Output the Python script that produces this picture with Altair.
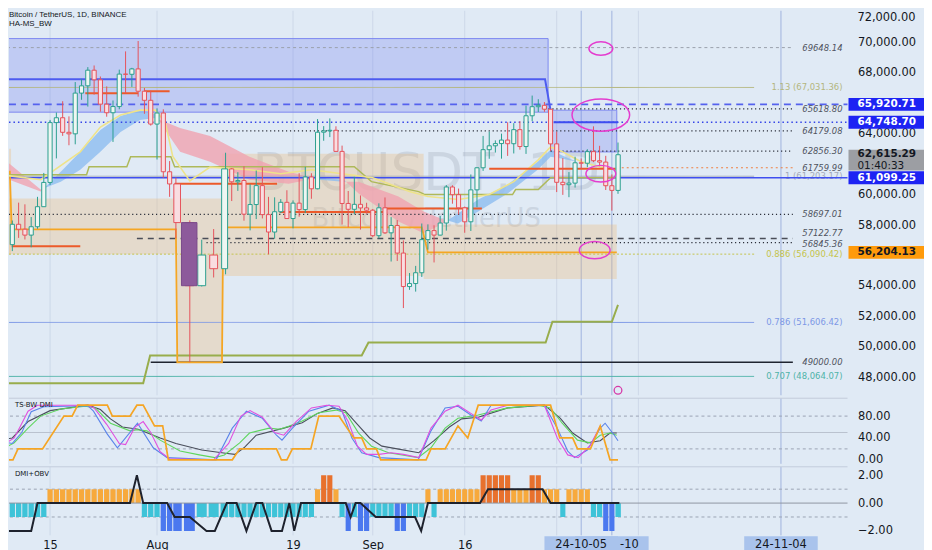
import altair as alt
import numpy as np
import pandas as pd

# ---------------- values ----------------
# x positions are day numbers counted from 2024-07-01 (= day 0)
DATES = pd.date_range("2024-07-08", "2024-10-11", freq="D")
OPEN = [55857, 56714, 58050, 57725, 57339, 57889, 59204, 60797, 64724, 65043,
        64087, 63987, 66660, 67139, 68165, 67532, 65936, 65372, 65777, 67907,
        67896, 68249, 66784, 66188,
        64628, 65354, 61498, 60697, 58161, 54018, 56030, 55134, 61685, 60837,
        60923, 58713, 59346, 60588, 58684, 57541, 58874, 59491, 58427, 59438,
        59013, 61157, 60381, 64094, 64178, 64220, 62834, 59415, 59034, 59359, 59123,
        58973, 57301, 59132, 57487, 57970, 56160, 53962, 54160, 54869, 57042,
        57635, 57339, 58132, 60498, 59993, 59132, 58213, 60309, 61759, 62947,
        63201, 63348, 63578, 63339, 64262, 63152, 65173, 65769, 65858, 65602,
        63327, 60805, 60649, 60752, 62086, 62058, 62819, 62224, 62131, 60582, 60274]
HIGH = [58236, 58296, 59470, 59359, 58526, 59850, 61420, 64900, 65388, 66128,
        65133, 67386, 67598, 68366, 68474, 67750, 67102, 66175, 68200, 69399,
        68318, 70079, 66998, 66810,
        65659, 65596, 62198, 61117, 58305, 57040, 57737, 62746, 61744, 61470,
        61858, 60680, 61578, 61800, 59850, 59817, 59700, 60284, 59617, 61400,
        61820, 61400, 64955, 64494, 65000, 64481, 63212, 60234, 61166, 59944, 59462,
        59054, 59425, 59809, 58519, 58327, 56995, 54850, 55318, 58100, 58044,
        57981, 58588, 60625, 60610, 60395, 59210, 61320, 61786, 63850, 64133,
        63559, 64000, 64745, 64688, 64817, 65839, 66498, 66260, 66076, 65618,
        64130, 62391, 61477, 62484, 62370, 62975, 64478, 63200, 62543, 61321, 63417]
LOW = [54260, 56289, 57157, 57052, 56542, 57756, 59204, 60632, 62373, 63854,
       63238, 63300, 66222, 65777, 66559, 65441, 65111, 63456, 65600, 66650,
       67066, 66428, 65302, 64526,
       62302, 61100, 59850, 57122, 49000, 53966, 54558, 54766, 59575, 60243,
       58286, 57650, 58392, 58433, 56078, 57098, 58785, 58408, 57787, 58548,
       58783, 59724, 60345, 63532, 63773, 62800, 58034, 57860, 58716, 57700, 58744,
       57201, 57128, 57415, 55606, 55643, 52550, 53745, 53629, 54591, 56386,
       55545, 57322, 57632, 59400, 58692, 57493, 57610, 59174, 61555, 62350,
       62758, 62357, 62538, 62700, 62947, 62670, 64819, 65422, 65432, 62856,
       60164, 59981, 59828, 60459, 61689, 61798, 62128, 61860, 60300, 58946, 60050]
CLOSE = [56714, 58050, 57725, 57339, 57889, 59204, 60797, 64724, 65043, 64087,
         63987, 66660, 67139, 68165, 67532, 65936, 65372, 65777, 67907, 67896,
         68249, 66784, 66188, 64628,
         65354, 61498, 60697, 58161, 54018, 56030, 55134, 61685, 60837, 60923,
         58713, 59346, 60588, 58684, 57541, 58874, 59491, 58427, 59438, 59013,
         61157, 60381, 64094, 64178, 64220, 62834, 59415, 59034, 59359, 59123, 58973,
         57301, 59132, 57487, 57970, 56160, 53962, 54160, 54869, 57042, 57635,
         57339, 58132, 60498, 59993, 59132, 58213, 60309, 61759, 62947, 63201,
         63348, 63578, 63339, 64262, 63152, 65173, 65769, 65858, 65602, 63327,
         60805, 60649, 60752, 62086, 62058, 62819, 62224, 62131, 60582, 60274, 62615.29]
HIGHLIGHT_DATES = ["2024-08-05"]

# indicator ribbon (two averages) and lines of the price pane
RIB_DAY = [6.2, 12.5, 15.7, 18.8, 22.0, 25.2, 28.3, 30.7, 32.3, 34.3, 36.7, 41.9, 48.3,
           53.2, 57.3, 59.7, 66.2, 70.3, 73.5, 75.9, 79.2, 84.0, 88.9, 91.0, 93.0, 95.3]
RIB_FAST = [61174, 60195, 61500, 62804, 64239, 65152, 65543, 65282, 64239, 62804, 62152,
            60978, 60717, 61109, 60978, 60065, 58238, 57456, 58108, 58760, 59673, 60652,
            62152, 62934, 62543, 62152]
RIB_SLOW = [62478, 60326, 60847, 61630, 62804, 64108, 64891, 65021, 64760, 64369, 63847,
            62478, 61500, 60978, 60847, 60847, 59869, 58891, 58369, 58108, 58891, 60065,
            61630, 62478, 62347, 62152]
YELLOW_DAY = [6.2, 12.5, 18.8, 22.0, 25.2, 28.3, 30.7, 32.3, 33.5, 35.0, 36.7, 41.9, 47.0,
              52.0, 57.0, 62.0, 68.0, 71.0, 76.0, 81.0, 85.0, 89.0, 91.0, 93.0, 96.0, 99.0, 102.0]
YELLOW_PRICE = [61304, 60978, 62804, 64434, 65217, 65543, 65543, 64760, 62500, 60900,
                61800, 61630, 61369, 61630, 61369, 61109, 60195, 59869, 59673, 60000,
                60847, 62282, 63130, 62804, 62152, 61826, 61630]
OLIVE_DAY = [6.2, 19.8, 20.2, 26.2, 26.8, 33.2, 33.8, 59.0, 61.8, 69.5, 70.5, 84.8, 85.3,
             89.0, 91.0, 102.0]
OLIVE_PRICE = [61304, 61304, 61826, 61826, 62478, 62478, 61826, 61826, 60847, 60195,
               60000, 60000, 60326, 60326, 61109, 61109]
LOWER_DAY = [6.2, 28.8, 29.9, 60.2, 61.3, 90.2, 91.3, 101.0, 102.0]
LOWER_PRICE = [47609, 47609, 49435, 49435, 50282, 50282, 51652, 51652, 52761]
ORANGE_DAY = [6.2, 7.6, 7.9, 34.0, 34.1, 37.7, 37.8, 70.0, 71.0, 101.8]
ORANGE_PRICE = [61500, 61500, 57717, 57717, 48980, 48980, 57847, 57847, 56204.13, 56204.13]
TREND_DAY = [6.2, 90.1, 91.0]
TREND_PRICE = [67565, 67565, 65543]
SEG_START = [7.9, 19.6, 29.0, 33.8, 46.8, 64.0, 81.0]
SEG_END = [18.8, 28.0, 33.0, 46.4, 64.0, 79.8, 101.6]
SEG_PRICE = [56608, 66652, 66782, 60717, 58850, 59087, 61695]

# zones
BLUE_ZONE_START = [6.2, 91.0]
BLUE_ZONE_END = [90.6, 101.8]
BLUE_ZONE_TOP = [70240, 65540]
BLUE_ZONE_BOTTOM = [65410, 62800]
TAN_ZONE_START = [6.2, 6.2, 34.1, 37.7, 70.3]
TAN_ZONE_END = [7.8, 34.1, 37.7, 70.3, 101.8]
TAN_ZONE_TOP = [63000, 59740, 59740, 62680, 58040]
TAN_ZONE_BOTTOM = [56090, 56090, 48980, 54650, 54460]

# horizontal levels
DOTTED_LEVELS = [65618.80, 64179.08, 62856.30, 58697.01, 56845.36]
DOTTED_FROM = [90.0, 36.4, 91.0, 6.2, 36.4]
DASHED_LEVELS = [57122.77]
DASHED_FROM = [27.8]
GREY_LEVELS = [69648.14]
GREY_FROM = [6.2]
ORANGE_LEVELS = [61759.99]
ORANGE_FROM = [101.8]
BLACK_LEVELS = [49000.00]
BLACK_FROM = [30.0]
BLUE_SOLID = [61099.25]
BLUE_DASHED = [65920.71]
BLUE_DOTTED = [64748.70]
BLUE_SEG_FROM, BLUE_SEG_TO = [91.5], [102.0]
FIB_RATIO = [1.13, 1.0, 0.886, 0.786, 0.707]
FIB_PRICE = [67031.36, 61203.17, 56090.42, 51606.42, 48064.07]

ELLIPSE_DAY = [99.2, 99.2, 99.2, 98.2]
ELLIPSE_PRICE = [69587, 65217, 61369, 56347]
LAST_PRICE = 62615.29
COUNTDOWN = "01:40:33"
TAG_PRICE = [65920.71, 64748.70, 61099.25]
ORANGE_TAG_PRICE = [56204.13]
PRICE_TICKS = [48000, 50000, 52000, 54000, 58000, 60000, 64000, 68000, 70000]

# TS-BW DMI pane
DMI_BLUE_DAY = [6.2, 8.0, 9.5, 11.0, 13.0, 20.0, 20.9, 23.1, 24.7, 27.9, 30.4, 32.6, 37.2, 39.1,
                41.4, 44.0, 46.3, 47.2, 48.9, 51.6, 54.9, 57.0, 58.6, 60.2, 63.0, 69.4, 71.5,
                73.8, 75.9, 78.0, 79.7, 81.3, 90.0, 92.1, 93.8, 94.9, 97.0, 99.1, 99.9, 101.4, 102.0]
DMI_BLUE = [33, 30, 50, 88, 97, 99, 89, 47, 22, 67, 22, 4, 0, 58, 89, 76, 45, 36, 58, 89, 100,
            89, 40, 13, 4, 0, 53, 95, 98, 82, 71, 100, 100, 58, 16, 4, 18, 58, 67, 45, 35]
DMI_PINK_DAY = [6.2, 8.3, 9.4, 10.5, 12.0, 20.0, 21.0, 23.0, 25.0, 26.0, 27.5, 28.8, 30.0, 31.5,
                33.0, 37.0, 38.5, 40.5, 42.0, 44.0, 46.0, 47.5, 49.5, 52.0, 54.5, 56.5, 58.0,
                59.5, 61.0, 63.0, 65.0, 67.0, 69.5, 71.5, 73.8, 75.9, 78.0, 79.7, 81.3, 84.0,
                90.0, 92.1, 93.8, 95.5, 97.5, 99.1]
DMI_PINK = [25, 40, 64, 89, 100, 100, 95, 65, 30, 28, 60, 70, 50, 15, 2, 0, 30, 80, 90, 78,
            50, 45, 70, 95, 100, 98, 70, 25, 10, 10, 13, 10, 4, 58, 89, 100, 85, 73, 91, 100,
            100, 40, 9, 4, 27, 62]
DMI_GREEN_DAY = [6.2, 8.3, 10.5, 12.5, 15.7, 19.6, 21.2, 23.6, 26.7, 27.9, 29.4, 31.5, 34.3,
                 35.8, 37.1, 37.9, 40.3, 41.9, 45.1, 46.8, 48.4, 50.5, 53.2, 56.0, 57.6, 59.7,
                 61.8, 64.6, 69.4, 71.5, 73.8, 75.9, 79.2, 84.0, 88.9, 91.0, 92.9, 95.4, 97.5,
                 99.1, 100.7, 101.8]
DMI_GREEN = [18, 31, 58, 80, 93, 98, 95, 67, 53, 55, 53, 36, 16, 9, 4, 9, 31, 49, 58, 56, 62,
             71, 86, 91, 86, 49, 25, 13, 4, 22, 58, 76, 82, 95, 100, 95, 67, 36, 31, 45, 49, 45]
DMI_DARK_DAY = [6.2, 8.0, 10.5, 14.0, 20.0, 22.0, 23.6, 25.5, 28.0, 31.5, 34.0, 36.0, 38.0,
                39.5, 41.0, 43.0, 47.5, 50.5, 53.0, 55.5, 57.5, 59.5, 61.5, 63.5, 66.0, 69.5,
                72.0, 74.5, 76.5, 79.2, 84.0, 90.0, 92.6, 94.6, 97.0, 99.1, 100.7, 101.8]
DMI_DARK = [36, 40, 70, 90, 100, 92, 75, 60, 56, 40, 30, 18, 12, 10, 22, 45, 58, 68, 85, 95,
            90, 65, 40, 25, 20, 13, 35, 60, 75, 78, 95, 100, 76, 49, 31, 35, 49, 49]
DMI_ORANGE_DAY = [6.2, 8.1, 8.9, 12.8, 16.2, 17.5, 18.4, 23.1, 23.9, 26.7, 27.8, 28.8, 30.6,
                  31.9, 32.8, 39.1, 40.3, 46.3, 47.1, 48.0, 48.9, 51.9, 53.2, 56.5, 58.9, 60.2,
                  61.0, 62.6, 63.3, 70.7, 71.5, 73.8, 75.9, 77.5, 79.2, 91.0, 92.5, 94.6, 95.4,
                  97.5, 99.1, 100.7, 102.0]
DMI_ORANGE = [0, 0, 20, 20, 80, 80, 100, 100, 80, 80, 100, 100, 62, 62, 0, 0, 20, 20, 0, 0,
              20, 20, 80, 80, 40, 40, 20, 20, 0, 0, 20, 20, 62, 40, 100, 100, 40, 40, 20, 20,
              62, 0, 0]

# DMI+OBV pane (one bar per candle, day 7 .. 102)
OBV_BARS = ([-1] * 7 + [1] * 15 + [-1] * 3 + [-2] * 4 + [-1] * 17 + [1, 2, 2, 1, -1, -2, -1, -2, -2]
            + [-1] * 4 + [-2, -2] + [-1] * 3 + [1, -1] + [1] * 7 + [2] * 5 + [1] * 3 + [2, 2]
            + [1] * 3 + [-1] + [1] * 4 + [-1, -1, -2, -2, -1])
OBV_LINE_DAY = [6.2, 11.0, 12.0, 26.7, 27.8, 28.8, 32.6, 33.8, 35.0, 36.4, 37.1, 38.2, 39.8,
                41.4, 43.0, 44.0, 45.5, 47.2, 48.4, 49.2, 50.3, 57.6, 58.4, 59.2, 60.0, 62.5,
                68.9, 69.9, 71.0, 79.5, 80.8, 89.7, 91.0, 102.2]
OBV_LINE = [-2, -2, 0, 0, 2, 0, 0, -1, -1, -2, -2, 0, 0, -2, 0, 0, -2, -2, 0, -2, 0, 0, -1, 0,
            0, -1, -1, -2, 0, 0, 1, 1, 0, 0]

# time axis
TICK_DAYS = [14, 31, 49, 62, 77]
TICK_LABELS = ["15", "Aug", "19", "Sep", "16"]
GRID_DAYS = [14, 31, 49, 62, 77, 92, 105]
RANGE_DAYS = [96, 101, 126]
SECOND_TAG_DAY, SECOND_TAG_TEXT = 101, "-10"
DATE_TAG_DAYS = [96, 126]
DATE_TAG_TEXT = ["24-10-05", "24-11-04"]

# ---------------- layout / style ----------------
BG = "#e0eaf5"
W = 844
H_PRICE, H_DMI, H_OBV = 387, 66, 69
X_DOMAIN = [7.47, 34, 35, 38, 102, 135.8]
X_RANGE = [0, 168, 182, 218, 613, 844]
XS = alt.Scale(domain=X_DOMAIN, range=X_RANGE, nice=False, zero=False, padding=0)
YS = alt.Scale(domain=[46826, 72065], zero=False, nice=False, padding=0)
YD = alt.Scale(domain=[-7.3, 112.7], zero=False, nice=False, padding=0)
YO = alt.Scale(domain=[-2.32, 2.61], zero=False, nice=False, padding=0)
TXT = "#131722"
FONT = "DejaVu Sans"
AX = dict(grid=False, ticks=False, tickSize=0, domain=False, labelPadding=10, labelFont=FONT,
          labelFontSize=11.5, labelColor=TXT, title=None, labelOverlap=False)
PRICE_AXIS = alt.Axis(orient="right", values=PRICE_TICKS, format=",.2f", **AX)
DMI_AXIS = alt.Axis(orient="right", values=[0, 40, 80], format=".2f", **AX)
OBV_AXIS = alt.Axis(orient="right", values=[-2, 0, 2], format=".2f", **AX)
label_expr = " : ".join(f"datum.value == {d} ? '{l}'" for d, l in zip(TICK_DAYS, TICK_LABELS)) + " : ''"
TIME_AXIS = alt.Axis(values=TICK_DAYS, labelExpr=label_expr, grid=False, ticks=False, tickSize=0,
                     domain=False, labelPadding=4, labelFont=FONT, labelFontSize=11.5,
                     labelColor=TXT, title=None, labelOverlap=False)
GREEN, RED = "#2b9f8f", "#e5535c"
INDEP = dict(color="independent", fill="independent", stroke="independent",
             strokeDash="independent", size="independent")


def px(field="t", axis=None):
    return alt.X(f"{field}:Q", scale=XS, axis=axis)


def py(field):
    return alt.Y(f"{field}:Q", scale=YS, axis=PRICE_AXIS)


def one(**kw):
    return alt.Chart(pd.DataFrame({k: [v] for k, v in kw.items()} if kw else {"a": [0]}))


grid_df = pd.DataFrame({"t": GRID_DAYS})
range_df = pd.DataFrame({"t": RANGE_DAYS})


def vlines(axis=None):
    return [alt.Chart(grid_df).mark_rule(color="#cdd8e8", strokeWidth=1).encode(x=px("t", axis)),
            alt.Chart(range_df).mark_rule(color="#9fb3df", strokeWidth=1).encode(x=px("t", axis))]


# ---------------- price pane ----------------
days = (DATES - pd.Timestamp("2024-07-01")).days
candles = pd.DataFrame({"t": days.astype(float), "o": OPEN, "h": HIGH, "l": LOW, "c": CLOSE,
                        "date": DATES.strftime("%Y-%m-%d")})
candles["t1"] = candles.t - 0.33
candles["t2"] = candles.t + 0.33
up = candles[candles.c >= candles.o]
down = candles[candles.c < candles.o]
hl = candles[candles.date.isin(HIGHLIGHT_DATES)]

rib_rows, seg = [], 0
for i, (t, f, s) in enumerate(zip(RIB_DAY, RIB_FAST, RIB_SLOW)):
    kind = "bull" if f >= s else "bear"
    if i > 0:
        t0, f0, s0 = RIB_DAY[i - 1], RIB_FAST[i - 1], RIB_SLOW[i - 1]
        k0 = "bull" if f0 >= s0 else "bear"
        if k0 != kind:
            d0, d1 = f0 - s0, f - s
            w = d0 / (d0 - d1)
            tc, pc = t0 + w * (t - t0), f0 + w * (f - f0)
            rib_rows.append({"t": tc, "a": pc, "b": pc, "seg": seg, "kind": k0})
            seg += 1
            rib_rows.append({"t": tc, "a": pc, "b": pc, "seg": seg, "kind": kind})
    rib_rows.append({"t": t, "a": f, "b": s, "seg": seg, "kind": kind})
rib = pd.DataFrame(rib_rows)

FIB_STYLE = [("#b4b67e", [1, 0]), ("#a3aabb", [1, 0]), ("#c5c44c", [2, 2]),
             ("#7d98e6", [1, 0]), ("#4fb3a8", [1, 0])]


def fib_layers():
    out = []
    for r, p, (col, dash) in zip(FIB_RATIO, FIB_PRICE, FIB_STYLE):
        d = pd.DataFrame({"p": [p], "label": [f"{r:g} ({p:,.2f})"]})
        out.append(alt.Chart(d).mark_rule(strokeWidth=1, color=col, strokeDash=dash).encode(
            x=alt.value(0), x2=alt.value(750), y=py("p")))
        out.append(alt.Chart(d).mark_text(align="right", font=FONT, fontSize=8.5, color=col).encode(
            x=alt.value(839), y=py("p"), text="label:N"))
    return out


label_prices = DOTTED_LEVELS + DASHED_LEVELS + GREY_LEVELS + ORANGE_LEVELS + BLACK_LEVELS
label_df = pd.DataFrame({"p": label_prices, "s": [f"{p:.2f}" for p in label_prices]})
# the two close labels (57122.77 / 56845.36) are pulled apart a little so they stay readable
label_shift = {57122.77: -5.5, 56845.36: 1.0}


def level_labels():
    out = []
    plain = label_df[~label_df.p.isin(list(label_shift))]
    out.append(alt.Chart(plain).mark_text(align="right", font=FONT, fontSize=8.5, fontStyle="italic",
                                          color="#4f535e").encode(x=alt.value(839), y=py("p"), text="s:N"))
    for p, dy in label_shift.items():
        out.append(alt.Chart(label_df[label_df.p == p]).mark_text(
            align="right", font=FONT, fontSize=8.5, fontStyle="italic", color="#4f535e", dy=dy).encode(
            x=alt.value(839), y=py("p"), text="s:N"))
    return out


def level_rule(prices, starts, color, dash, width, to=789):
    df = pd.DataFrame({"p": prices, "t": starts})
    return alt.Chart(df).mark_rule(color=color, strokeDash=dash, strokeWidth=width, clip=True).encode(
        x=px("t"), x2=alt.value(to), y=py("p"))


def full_rule(prices, color, dash, width):
    df = pd.DataFrame({"p": prices})
    return alt.Chart(df).mark_rule(color=color, strokeDash=dash, strokeWidth=width).encode(
        x=alt.value(0), x2=alt.value(W), y=py("p"))


def path_line(dx, dy, color, width):
    df = pd.DataFrame({"t": dx, "p": dy})
    return alt.Chart(df).mark_line(color=color, strokeWidth=width, clip=True).encode(x=px("t"), y=py("p"))


def tag(prices, box_color, text_color, bold=True):
    d = pd.DataFrame({"p": prices, "s": [f"{p:,.2f}" for p in prices]})
    return [alt.Chart(d).mark_point(shape=TAG_BOX, filled=True, size=76 * 76, opacity=1, strokeWidth=0,
                                    color=box_color).encode(x=alt.value(883), y=py("p")),
            alt.Chart(d).mark_text(align="left", font=FONT, fontSize=10.5, color=text_color,
                                   fontWeight="bold" if bold else "normal").encode(
                x=alt.value(854), y=py("p"), text="s:N")]


ELLIPSE = "M-1,0 A1,0.56 0 1,1 1,0 A1,0.56 0 1,1 -1,0 Z"
ell = pd.DataFrame({"t": ELLIPSE_DAY, "p": ELLIPSE_PRICE})
ell["sz"] = [w * w for w in [24, 58, 30, 31]]
TAG_BOX = "M-1,-0.171 L1,-0.171 L1,0.171 L-1,0.171 Z"
LAST_BOX = "M-1,-0.276 L1,-0.276 L1,0.276 L-1,0.276 Z"

price_layers = vlines() + [
    one(s="BTCUSDT, 1D").mark_text(font=FONT, fontSize=52, color="#7c8696", opacity=0.2).encode(
        x=alt.value(420), y=alt.value(164), text="s:N"),
    one(s="Bitcoin / TetherUS").mark_text(font=FONT, fontSize=26, color="#7c8696", opacity=0.2).encode(
        x=alt.value(420), y=alt.value(210), text="s:N"),
    alt.Chart(pd.DataFrame({"t1": BLUE_ZONE_START, "t2": BLUE_ZONE_END, "p1": BLUE_ZONE_TOP,
                            "p2": BLUE_ZONE_BOTTOM})).mark_rect(
        fill="#6070f0", fillOpacity=0.25, stroke="#7e89f0", strokeWidth=1, clip=True).encode(
        x=px("t1"), x2="t2", y=py("p1"), y2="p2"),
    alt.Chart(pd.DataFrame({"t1": TAN_ZONE_START, "t2": TAN_ZONE_END, "p1": TAN_ZONE_TOP,
                            "p2": TAN_ZONE_BOTTOM})).mark_rect(
        fill="#f0b060", fillOpacity=0.27, clip=True).encode(x=px("t1"), x2="t2", y=py("p1"), y2="p2"),
    alt.Chart(rib[rib.kind == "bull"]).mark_area(opacity=0.8, color="#8dbdf0", clip=True).encode(
        x=px("t"), y=py("a"), y2="b", detail="seg:N"),
    alt.Chart(rib[rib.kind == "bear"]).mark_area(opacity=0.8, color="#f0a3b0", clip=True).encode(
        x=px("t"), y=py("a"), y2="b", detail="seg:N"),
] + fib_layers() + [
    level_rule(GREY_LEVELS, GREY_FROM, "#9aa0ab", [3, 3], 1),
    level_rule(DOTTED_LEVELS, DOTTED_FROM, "#2a2e39", [1.2, 2.8], 1.3),
    level_rule(DASHED_LEVELS, DASHED_FROM, "#4a4e58", [6, 5], 1.5),
    level_rule(ORANGE_LEVELS, ORANGE_FROM, "#f08040", [2, 3], 1.2),
    level_rule(BLACK_LEVELS, BLACK_FROM, "#1f2430", [1, 0], 1.5),
    full_rule(BLUE_SOLID, "#3f4ff0", [1, 0], 1.5),
    full_rule(BLUE_DASHED, "#5562ee", [7, 5], 2),
    full_rule(BLUE_DOTTED, "#3444e8", [1.5, 3], 1.5),
    path_line(LOWER_DAY, LOWER_PRICE, "#98ad4c", 2),
    path_line(ORANGE_DAY, ORANGE_PRICE, "#f5a623", 1.8),
    path_line(OLIVE_DAY, OLIVE_PRICE, "#aeb95a", 1.5),
    path_line(YELLOW_DAY, YELLOW_PRICE, "#eee38a", 1.6),
    path_line(TREND_DAY, TREND_PRICE, "#4d5cf0", 2),
    alt.Chart(pd.DataFrame({"t": BLUE_SEG_FROM, "t2": BLUE_SEG_TO, "p": BLUE_DOTTED})).mark_rule(
        color="#3d4cf0", strokeWidth=2).encode(x=px("t"), x2="t2", y=py("p")),
    alt.Chart(pd.DataFrame({"t": SEG_START, "t2": SEG_END, "p": SEG_PRICE})).mark_rule(
        color="#ec5a2a", strokeWidth=2, clip=True).encode(x=px("t"), x2="t2", y=py("p")),
    alt.Chart(up).mark_rule(strokeWidth=1, color=GREEN, clip=True).encode(x=px("t"), y=py("l"), y2="h"),
    alt.Chart(down).mark_rule(strokeWidth=1, color=RED, clip=True).encode(x=px("t"), y=py("l"), y2="h"),
    alt.Chart(up).mark_rect(strokeWidth=1, fill="#eef6f2", stroke=GREEN, clip=True).encode(
        x=px("t1"), x2="t2", y=py("o"), y2="c"),
    alt.Chart(down).mark_rect(strokeWidth=1, fill="#f9dde1", stroke=RED, clip=True).encode(
        x=px("t1"), x2="t2", y=py("o"), y2="c"),
    alt.Chart(hl).transform_calculate(a="datum.t - 0.6", b="datum.t + 0.6").mark_rect(
        fill="#8d5a9b", stroke="#7a4a8a", strokeWidth=1).encode(x=px("a"), x2="b", y=py("o"), y2="c"),
    alt.Chart(ell).mark_point(shape=ELLIPSE, filled=False, color="#e43ccf", strokeWidth=1.5,
                              opacity=1).encode(
        x=px("t"), y=py("p"), size=alt.Size("sz:Q", scale=None, legend=None)),
    one(t=102.0, p=47150).mark_point(shape="circle", filled=False, color="#d63aa8", size=60,
                                     strokeWidth=1.3, opacity=1).encode(x=px("t"), y=py("p")),
] + level_labels() + [
    one(p=72000.0, s="72,000.00").mark_text(align="left", baseline="top", font=FONT, fontSize=11.5,
                                            color=TXT).encode(x=alt.value(854), y=py("p"), text="s:N"),
] + tag(TAG_PRICE, "#1d23f3", "#ffffff") + tag(ORANGE_TAG_PRICE, "#ff9a0a", TXT) + [
    one(p=LAST_PRICE).mark_point(shape=LAST_BOX, filled=True, size=76 * 76, opacity=1, strokeWidth=0,
                                 color="#9c9ea3", yOffset=5.5).encode(x=alt.value(883), y=py("p")),
    one(p=LAST_PRICE, s=f"{LAST_PRICE:,.2f}").mark_text(align="left", font=FONT, fontSize=10.5,
                                                        fontWeight="bold", color=TXT, dy=-0.5).encode(
        x=alt.value(854), y=py("p"), text="s:N"),
    one(p=LAST_PRICE, s=COUNTDOWN).mark_text(align="left", font=FONT, fontSize=10.5, color=TXT,
                                             dy=11).encode(x=alt.value(854), y=py("p"), text="s:N"),
    one(s="Bitcoin / TetherUS, 1D, BINANCE").mark_text(align="left", baseline="top", font="Liberation Sans",
                                                      fontSize=8, color=TXT).encode(
        x=alt.value(0), y=alt.value(0), text="s:N"),
    one(s="HA-MS_BW").mark_text(align="left", baseline="top", font="Liberation Sans", fontSize=8,
                                color=TXT).encode(x=alt.value(0), y=alt.value(9), text="s:N"),
]
price = alt.layer(*price_layers).properties(width=W, height=H_PRICE).resolve_scale(**INDEP)


# ---------------- DMI pane ----------------
def yd(f):
    return alt.Y(f"{f}:Q", scale=YD, axis=DMI_AXIS)


def dmi_line(dx, dv, color, width):
    return alt.Chart(pd.DataFrame({"t": dx, "v": dv})).mark_line(
        color=color, strokeWidth=width, clip=True).encode(x=px("t"), y=yd("v"))


dmi_layers = vlines() + [
    one().mark_rule(color="#c3cddc", strokeWidth=1).encode(x=alt.value(0), x2=alt.value(W), y=alt.value(0)),
    alt.Chart(pd.DataFrame({"v": [20, 80]})).mark_rule(color="#9aa3b3", strokeDash=[3, 3],
                                                        strokeWidth=1).encode(y=yd("v")),
    alt.Chart(pd.DataFrame({"v": [50]})).mark_rule(color="#b9c2cf", strokeWidth=1).encode(y=yd("v")),
    dmi_line(DMI_DARK_DAY, DMI_DARK, "#4a4f5c", 1.1),
    dmi_line(DMI_GREEN_DAY, DMI_GREEN, "#5fd65f", 1.1),
    dmi_line(DMI_BLUE_DAY, DMI_BLUE, "#5b84ea", 1.1),
    dmi_line(DMI_PINK_DAY, DMI_PINK, "#e04fe0", 1.1),
    dmi_line(DMI_ORANGE_DAY, DMI_ORANGE, "#f5a524", 1.7),
    one(s="TS-BW DMI").mark_text(align="left", font=FONT, fontSize=7, color=TXT).encode(
        x=alt.value(6), y=alt.value(6.5), text="s:N"),
]
dmi = alt.layer(*dmi_layers).properties(width=W, height=H_DMI)

# ---------------- DMI+OBV pane ----------------
obv = pd.DataFrame({"t": days.astype(float), "v": OBV_BARS})
OBV_COLORS = {1: "#f7a93c", 2: "#e8712d", -1: "#3ec3d8", -2: "#4b78ef"}


def yo(f):
    return alt.Y(f"{f}:Q", scale=YO, axis=OBV_AXIS)


obv_layers = vlines(TIME_AXIS) + [
    one().mark_rule(color="#c3cddc", strokeWidth=1).encode(x=alt.value(0), x2=alt.value(W), y=alt.value(0)),
    alt.Chart(pd.DataFrame({"v": [1, -1]})).mark_rule(color="#9aa3b3", strokeDash=[3, 3],
                                                       strokeWidth=1).encode(y=yo("v")),
]
for val, col in OBV_COLORS.items():
    obv_layers.append(
        alt.Chart(obv[obv.v == val]).transform_calculate(t1="datum.t - 0.42", t2="datum.t + 0.42")
        .mark_rect(color=col, clip=True).encode(x=px("t1", TIME_AXIS), x2="t2", y=yo("v"), y2=alt.datum(0)))
obv_layers += [
    alt.Chart(pd.DataFrame({"v": [0]})).mark_rule(color="#8e95a2", strokeWidth=1).encode(y=yo("v")),
    alt.Chart(pd.DataFrame({"t": OBV_LINE_DAY, "v": OBV_LINE})).mark_line(
        color="#1e222d", strokeWidth=2, clip=True).encode(x=px("t", TIME_AXIS), y=yo("v")),
    one(s="DMI+OBV").mark_text(align="left", font=FONT, fontSize=7, color=TXT).encode(
        x=alt.value(6), y=alt.value(7), text="s:N"),
]
TAG_DATE_BOX = "M-1,-0.23 L1,-0.23 L1,0.23 L-1,0.23 Z"
obv_layers.append(one(t=float(SECOND_TAG_DAY)).mark_point(
    shape=TAG_DATE_BOX, filled=True, size=74 * 74, opacity=1, strokeWidth=0, color="#a9c3ec").encode(
    x=px("t", TIME_AXIS), y=alt.value(H_OBV + 9.5)))
obv_layers.append(one(t=float(SECOND_TAG_DAY), s=SECOND_TAG_TEXT).mark_text(
    font=FONT, fontSize=11.5, color=TXT, align="right", dx=27).encode(
    x=px("t", TIME_AXIS), y=alt.value(H_OBV + 9.5), text="s:N"))
for d, s in zip(DATE_TAG_DAYS, DATE_TAG_TEXT):
    obv_layers.append(one(t=float(d)).mark_point(shape=TAG_DATE_BOX, filled=True, size=74 * 74, opacity=1,
                                                 strokeWidth=0, color="#a9c3ec").encode(
        x=px("t", TIME_AXIS), y=alt.value(H_OBV + 9.5)))
    obv_layers.append(one(t=float(d), s=s).mark_text(font=FONT, fontSize=11.5, color=TXT).encode(
        x=px("t", TIME_AXIS), y=alt.value(H_OBV + 9.5), text="s:N"))
obvc = alt.layer(*obv_layers).properties(width=W, height=H_OBV)

chart = alt.vconcat(price, dmi, obvc, spacing=0, padding=0).resolve_scale(
    x="independent", y="independent").configure(background=BG).configure_view(stroke=None, fill=BG)

chart.save("out.html", embed_options={"renderer": "svg", "actions": False})
